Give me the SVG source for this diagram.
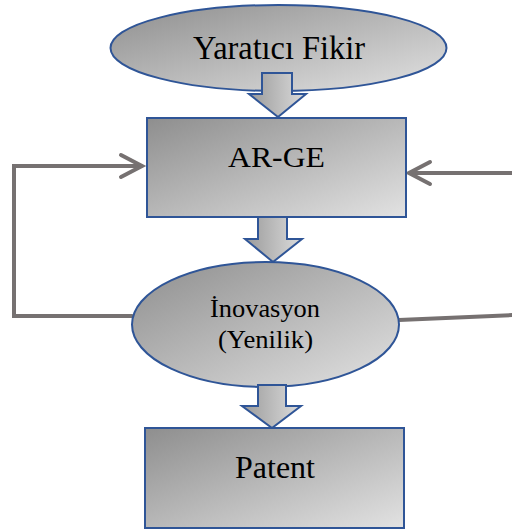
<svg xmlns="http://www.w3.org/2000/svg" width="512" height="529" viewBox="0 0 512 529">
<defs>
<linearGradient id="g" x1="0" y1="0" x2="1" y2="1">
<stop offset="0" stop-color="#8e8e8e"/>
<stop offset="1" stop-color="#e2e2e2"/>
</linearGradient>
<linearGradient id="ga" x1="0" y1="0" x2="1" y2="0">
<stop offset="0" stop-color="#9a9a9a"/>
<stop offset="1" stop-color="#dcdcdc"/>
</linearGradient>
<style>
.shape{fill:url(#g);stroke:#2f5597;stroke-width:2}
.barrow{fill:url(#ga);stroke:#2f5597;stroke-width:2;stroke-linejoin:miter}
.t{font-family:'Liberation Serif','Times New Roman',serif;fill:#000;text-anchor:middle}
.c{fill:none;stroke:#767171;stroke-width:4;stroke-linecap:round;stroke-linejoin:miter}
</style>
</defs>
<rect width="512" height="529" fill="#fff"/>
<g id="connectors">
<polyline class="c" points="132,316 14,316 14,166 141,166"/>
<polyline class="c" points="121,155 142,166 121,177"/>
<line class="c" x1="399" y1="320" x2="514" y2="315" style="stroke-linecap:butt"/>
<line class="c" x1="514" y1="173" x2="409" y2="173" style="stroke-linecap:butt"/>
<polyline class="c" points="430,162 409,173 430,184"/>
</g>
<g id="node-yaratici">
<ellipse class="shape" cx="278.5" cy="48" rx="168" ry="43"/>
<text class="t" x="279" y="59" font-size="33" textLength="172" lengthAdjust="spacingAndGlyphs">Yaratıcı Fikir</text>
</g>
<g id="arrow-1">
<polygon class="barrow" points="262,73 292,73 292,94 306,94 278,117 249,94 262,94"/>
</g>
<g id="node-arge">
<rect class="shape" x="147" y="118" width="259" height="99"/>
<text class="t" x="276.5" y="167" font-size="30" textLength="97" lengthAdjust="spacingAndGlyphs">AR-GE</text>
</g>
<g id="arrow-2">
<polygon class="barrow" points="258,217 287,217 287,239 302,239 273,262 245,239 258,239"/>
</g>
<g id="node-inovasyon">
<ellipse class="shape" cx="265.5" cy="324.5" rx="133.5" ry="62.5"/>
<text class="t" x="265" y="317" font-size="25" textLength="110" lengthAdjust="spacingAndGlyphs">İnovasyon</text>
<text class="t" x="265.5" y="348" font-size="26" textLength="95" lengthAdjust="spacingAndGlyphs">(Yenilik)</text>
</g>
<g id="arrow-3">
<polygon class="barrow" points="258,385 286,385 286,406 301,406 272,428 242,406 258,406"/>
</g>
<g id="node-patent">
<rect class="shape" x="145" y="428" width="259" height="100"/>
<text class="t" x="275" y="478" font-size="31" textLength="80" lengthAdjust="spacingAndGlyphs">Patent</text>
</g>
</svg>
